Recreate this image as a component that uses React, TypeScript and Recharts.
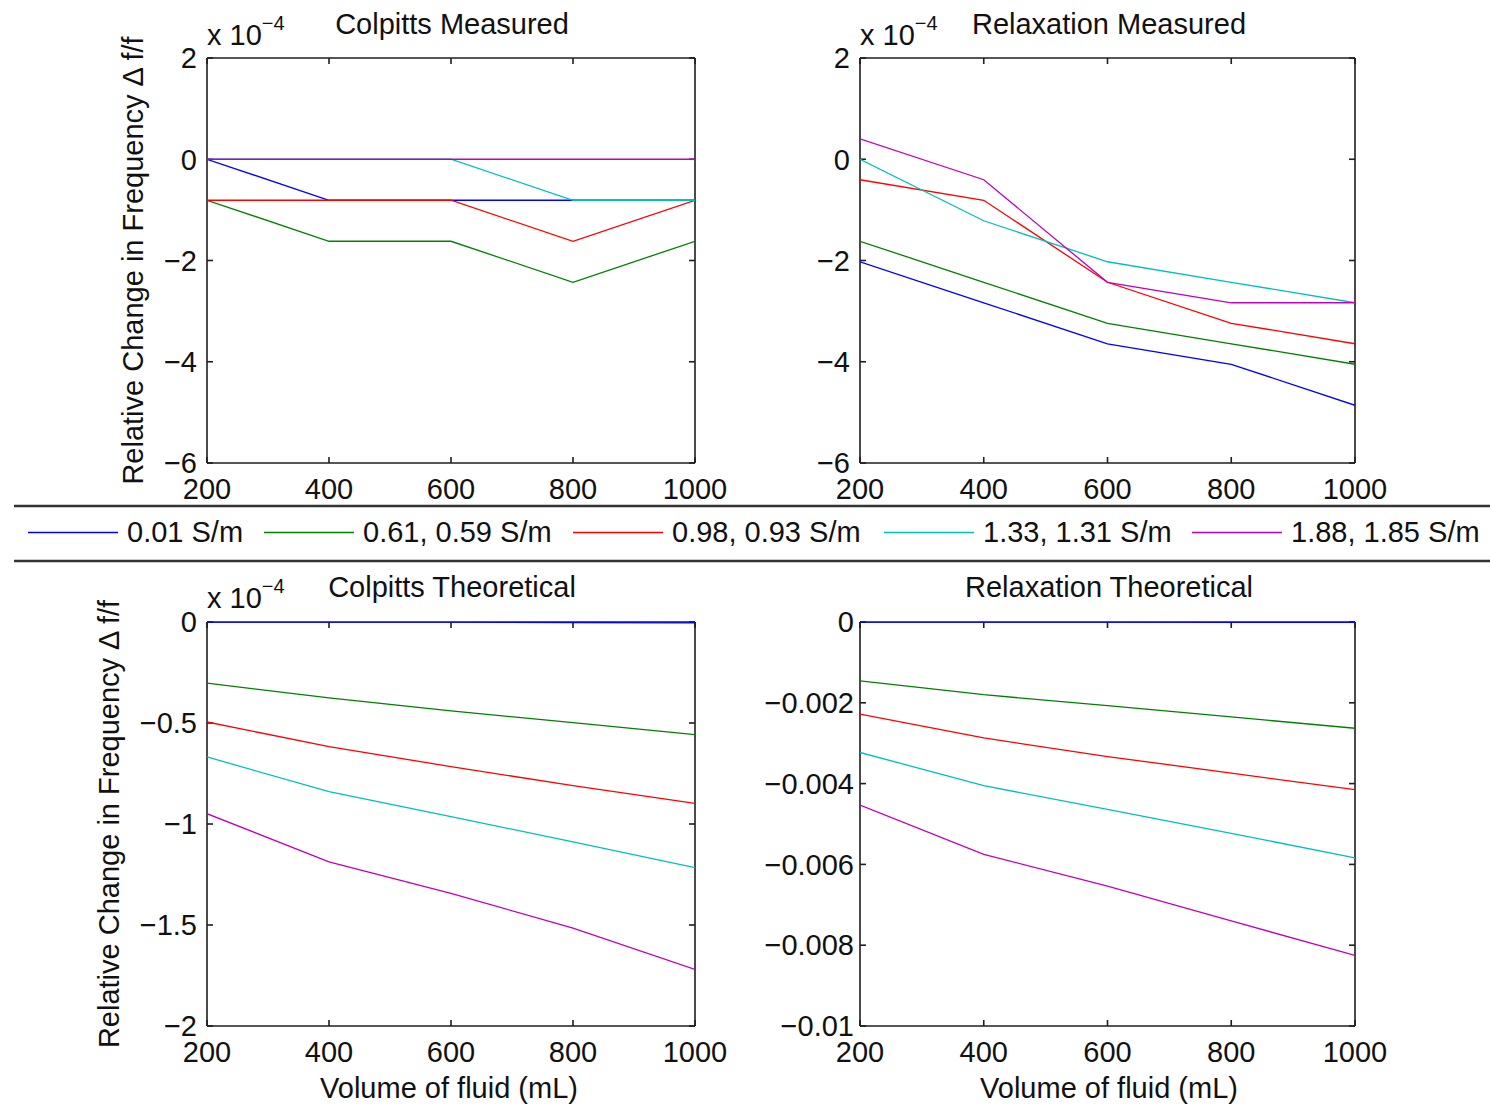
import React from 'react';
import { LineChart, Line, XAxis, YAxis } from 'recharts';

// ---------- data ----------
const volumes = [200, 400, 600, 800, 1000];
const seriesNames = ['0.01 S/m', '0.61, 0.59 S/m', '0.98, 0.93 S/m', '1.33, 1.31 S/m', '1.88, 1.85 S/m'];
const seriesColors = ['#0000ff', '#008000', '#ff0000', '#00bfbf', '#bf00bf'];

// Colpitts measured (x 1e-4)
const cmBlue = [0, -0.81, -0.81, -0.81, -0.81];
const cmGreen = [-0.81, -1.62, -1.62, -2.43, -1.62];
const cmRed = [-0.81, -0.81, -0.81, -1.62, -0.81];
const cmCyan = [0, 0, 0, -0.81, -0.81];
const cmMagenta = [0, 0, 0, 0, 0];

// Relaxation measured (x 1e-4)
const rmBlue = [-2.025, -2.835, -3.645, -4.05, -4.86];
const rmGreen = [-1.62, -2.43, -3.24, -3.645, -4.05];
const rmRed = [-0.405, -0.81, -2.43, -3.24, -3.645];
const rmCyan = [0, -1.215, -2.025, -2.43, -2.835];
const rmMagenta = [0.405, -0.405, -2.43, -2.835, -2.835];

// Colpitts theoretical (x 1e-4)
const ctBlue = [0, 0, 0, -0.003, -0.004];
const ctGreen = [-0.303, -0.376, -0.44, -0.498, -0.558];
const ctRed = [-0.495, -0.617, -0.716, -0.81, -0.898];
const ctCyan = [-0.668, -0.84, -0.964, -1.088, -1.216];
const ctMagenta = [-0.949, -1.187, -1.343, -1.516, -1.72];

// Relaxation theoretical
const rtBlue = [0, 0, 0, -0.00001, -0.00001];
const rtGreen = [-0.001457, -0.0018, -0.00207, -0.00235, -0.00263];
const rtRed = [-0.00228, -0.00287, -0.00333, -0.00374, -0.00415];
const rtCyan = [-0.00323, -0.00405, -0.00464, -0.00523, -0.00584];
const rtMagenta = [-0.00453, -0.00575, -0.00654, -0.0074, -0.00825];

// ticks
const xTicks = [200, 400, 600, 800, 1000];
const measuredYTicks = [2, 0, -2, -4, -6];
const colpittsTheoryYTicks = [0, -0.5, -1, -1.5, -2];
const relaxTheoryYTicks = [0, -0.002, -0.004, -0.006, -0.008, -0.01];

// ---------- helpers ----------
const FONT = '"Liberation Sans", Arial, Helvetica, sans-serif';
const AXIS_COLOR = '#1e1e1e';
const TEXT_COLOR = '#111';

const buildRows = (series: number[][]) =>
  volumes.map((x, i) => {
    const row: Record<string, number> = { x };
    series.forEach((s, k) => {
      row['s' + k] = s[i];
    });
    return row;
  });

const fmt = (v: number) => {
  const n = Number(v.toFixed(4));
  if (n === 0) return '0';
  return n < 0 ? '\u2212' + String(Math.abs(n)) : String(n);
};
const blank = () => '';

type PanelProps = {
  series: number[][];
  yDomain: [number, number];
  yTicks: number[];
  plotLeft: number;
  plotTop: number;
  plotW: number;
  plotH: number;
  yTickMargin: number;
};

const YW = 110;
const XH = 60;
const MT = 20;
const MR = 40;

function Panel({ series, yDomain, yTicks, plotLeft, plotTop, plotW, plotH, yTickMargin }: PanelProps) {
  const rows = buildRows(series);
  const width = YW + plotW + MR;
  const height = MT + plotH + XH;
  const tickStyle = { fontSize: 29, fill: TEXT_COLOR, fontFamily: FONT };
  const hiddenTick = { fontSize: 1, fill: 'none' };
  const frameLine = { stroke: AXIS_COLOR, strokeWidth: 1.6 };
  const tickLine = { stroke: AXIS_COLOR, strokeWidth: 1.6 };
  return (
    <div style={{ position: 'absolute', left: plotLeft - YW, top: plotTop - MT, width, height }}>
      <LineChart width={width} height={height} data={rows} margin={{ top: MT, right: MR, bottom: 0, left: 0 }}>
        <XAxis
          xAxisId="b"
          dataKey="x"
          type="number"
          domain={[200, 1000]}
          allowDataOverflow
          ticks={xTicks}
          interval={0}
          height={XH}
          axisLine={false}
          tickLine={false}
          tickSize={0}
          tickMargin={15}
          tick={tickStyle}
        />
        <XAxis
          xAxisId="bm"
          dataKey="x"
          type="number"
          domain={[200, 1000]}
          allowDataOverflow
          ticks={xTicks}
          interval={0}
          mirror
          axisLine={frameLine}
          tickLine={tickLine}
          tickSize={6}
          tick={hiddenTick}
          tickFormatter={blank}
        />
        <XAxis
          xAxisId="tm"
          dataKey="x"
          orientation="top"
          type="number"
          domain={[200, 1000]}
          allowDataOverflow
          ticks={xTicks}
          interval={0}
          mirror
          axisLine={frameLine}
          tickLine={tickLine}
          tickSize={6}
          tick={hiddenTick}
          tickFormatter={blank}
        />
        <YAxis
          yAxisId="l"
          type="number"
          domain={yDomain}
          allowDataOverflow
          ticks={yTicks}
          interval={0}
          width={YW}
          axisLine={false}
          tickLine={false}
          tickSize={0}
          tickMargin={yTickMargin}
          tick={tickStyle}
          tickFormatter={fmt}
        />
        <YAxis
          yAxisId="lm"
          type="number"
          domain={yDomain}
          allowDataOverflow
          ticks={yTicks}
          interval={0}
          mirror
          axisLine={frameLine}
          tickLine={tickLine}
          tickSize={6}
          tick={hiddenTick}
          tickFormatter={blank}
        />
        <YAxis
          yAxisId="rm"
          orientation="right"
          type="number"
          domain={yDomain}
          allowDataOverflow
          ticks={yTicks}
          interval={0}
          mirror
          axisLine={frameLine}
          tickLine={tickLine}
          tickSize={6}
          tick={hiddenTick}
          tickFormatter={blank}
        />
        {series.map((_, k) => (
          <Line
            key={k}
            xAxisId="b"
            yAxisId="l"
            type="linear"
            dataKey={'s' + k}
            name={seriesNames[k]}
            stroke={seriesColors[k]}
            strokeWidth={1.3}
            dot={false}
            activeDot={false}
            isAnimationActive={false}
            {...({ zIndex: 600 } as any)}
          />
        ))}
      </LineChart>
    </div>
  );
}

const LEGEND_X = [28, 264, 573, 884, 1192];

function Overlay() {
  const textProps = { fontFamily: FONT, fontSize: 29, fill: TEXT_COLOR };
  const yLabel = 'Relative Change in Frequency \u0394 f/f';
  return (
    <svg
      width={1490}
      height={1105}
      style={{ position: 'absolute', left: 0, top: 0, pointerEvents: 'none' }}
    >
      {/* titles */}
      <text x={452} y={34} textAnchor="middle" {...textProps}>Colpitts Measured</text>
      <text x={1109} y={34} textAnchor="middle" {...textProps}>Relaxation Measured</text>
      <text x={452} y={597} textAnchor="middle" {...textProps}>Colpitts Theoretical</text>
      <text x={1109} y={597} textAnchor="middle" {...textProps}>Relaxation Theoretical</text>

      {/* exponent labels */}
      <text x={207} y={45} {...textProps}>
        x 10<tspan dy={-15} fontSize={20}>{'\u22124'}</tspan>
      </text>
      <text x={860} y={45} {...textProps}>
        x 10<tspan dy={-15} fontSize={20}>{'\u22124'}</tspan>
      </text>
      <text x={207} y={608} {...textProps}>
        x 10<tspan dy={-15} fontSize={20}>{'\u22124'}</tspan>
      </text>

      {/* y labels */}
      <text x={143} y={260.5} textAnchor="middle" transform="rotate(-90 143 260.5)" {...textProps}>{yLabel}</text>
      <text x={119} y={824} textAnchor="middle" transform="rotate(-90 119 824)" {...textProps}>{yLabel}</text>

      {/* x labels */}
      <text x={449} y={1098} textAnchor="middle" {...textProps}>Volume of fluid (mL)</text>
      <text x={1109} y={1098} textAnchor="middle" {...textProps}>Volume of fluid (mL)</text>

      {/* legend box */}
      <line x1={14} y1={506} x2={1490} y2={506} stroke="#333" strokeWidth={2.5} />
      <line x1={14} y1={561} x2={1490} y2={561} stroke="#333" strokeWidth={2.5} />
      {seriesNames.map((name, k) => (
        <g key={name}>
          <line x1={LEGEND_X[k]} y1={532.5} x2={LEGEND_X[k] + 90} y2={532.5} stroke={seriesColors[k]} strokeWidth={1.5} />
          <text x={LEGEND_X[k] + 99} y={542} {...textProps}>{name}</text>
        </g>
      ))}
    </svg>
  );
}

export default function App() {
  return (
    <div style={{ position: 'absolute', left: 0, top: 0, width: 1490, height: 1105, background: '#fff', overflow: 'hidden' }}>
      <Panel
        series={[cmBlue, cmGreen, cmRed, cmCyan, cmMagenta]}
        yDomain={[-6, 2]}
        yTicks={measuredYTicks}
        plotLeft={207}
        plotTop={58}
        plotW={488}
        plotH={405}
        yTickMargin={10}
      />
      <Panel
        series={[rmBlue, rmGreen, rmRed, rmCyan, rmMagenta]}
        yDomain={[-6, 2]}
        yTicks={measuredYTicks}
        plotLeft={860}
        plotTop={58}
        plotW={495}
        plotH={405}
        yTickMargin={10}
      />
      <Panel
        series={[ctBlue, ctGreen, ctRed, ctCyan, ctMagenta]}
        yDomain={[-2, 0]}
        yTicks={colpittsTheoryYTicks}
        plotLeft={207}
        plotTop={622}
        plotW={488}
        plotH={404}
        yTickMargin={10}
      />
      <Panel
        series={[rtBlue, rtGreen, rtRed, rtCyan, rtMagenta]}
        yDomain={[-0.01, 0]}
        yTicks={relaxTheoryYTicks}
        plotLeft={860}
        plotTop={622}
        plotW={495}
        plotH={404}
        yTickMargin={6}
      />
      <Overlay />
    </div>
  );
}
